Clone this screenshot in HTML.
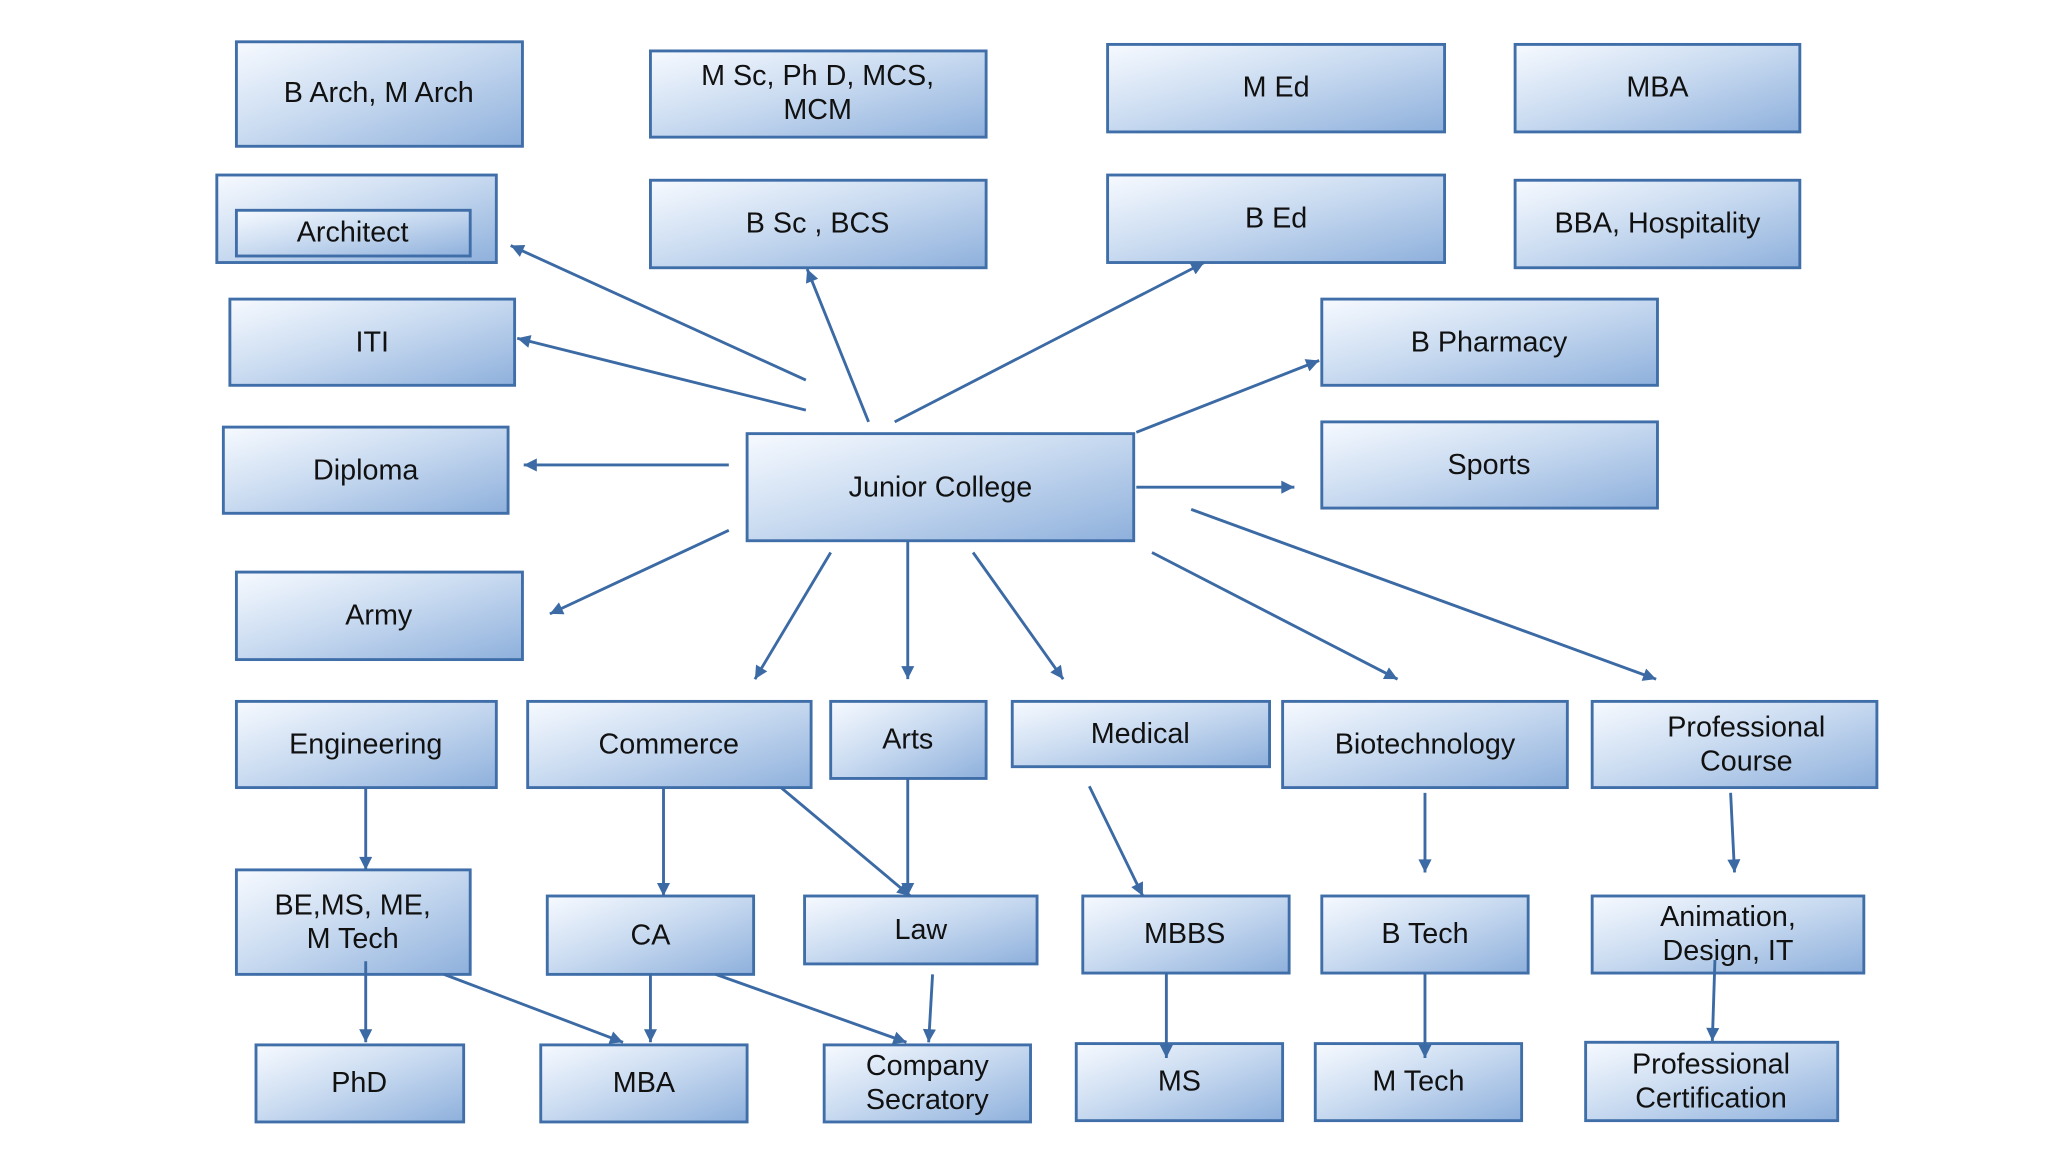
<!DOCTYPE html>
<html><head><meta charset="utf-8"><style>
html,body{margin:0;padding:0;background:#fff;}
svg{display:block;}
text{font-family:"Liberation Sans",Arial,sans-serif;font-size:22px;fill:#111;text-anchor:middle;}
.b{fill:url(#g);stroke:#3f6ea8;stroke-width:2.2;}
.l{stroke:#3b6aa4;stroke-width:2.2;fill:none;marker-end:url(#a);}
</style></head><body>
<svg width="2048" height="1152" viewBox="0 0 1568 882" preserveAspectRatio="none" xmlns="http://www.w3.org/2000/svg">
<defs>
<linearGradient id="g" x1="0" y1="0" x2="1" y2="1">
<stop offset="0" stop-color="#f7faff"/><stop offset="0.45" stop-color="#cbdcf1"/><stop offset="1" stop-color="#8eb0dc"/>
</linearGradient>
<marker id="a" viewBox="0 0 10 10" refX="10" refY="5" markerWidth="12" markerHeight="10" orient="auto" markerUnits="userSpaceOnUse">
<path d="M0,0 L10,5 L0,10 z" fill="#3b6aa4"/>
</marker>
</defs>
<g>
<rect class="b" x="181" y="32" width="219" height="80"/><text x="290" y="78">B Arch, M Arch</text>
<rect class="b" x="498" y="39" width="257" height="66"/><text x="626" y="65">M Sc, Ph D, MCS,</text><text x="626" y="91">MCM</text>
<rect class="b" x="848" y="34" width="258" height="67"/><text x="977" y="74">M Ed</text>
<rect class="b" x="1160" y="34" width="218" height="67"/><text x="1269" y="74">MBA</text>
<rect class="b" x="166" y="134" width="214" height="67"/><rect class="b" x="181" y="161" width="179" height="35"/><text x="270" y="185">Architect</text>
<rect class="b" x="498" y="138" width="257" height="67"/><text x="626" y="178">B Sc , BCS</text>
<rect class="b" x="848" y="134" width="258" height="67"/><text x="977" y="174">B Ed</text>
<rect class="b" x="1160" y="138" width="218" height="67"/><text x="1269" y="178">BBA, Hospitality</text>
<rect class="b" x="176" y="229" width="218" height="66"/><text x="285" y="269">ITI</text>
<rect class="b" x="1012" y="229" width="257" height="66"/><text x="1140" y="269">B Pharmacy</text>
<rect class="b" x="171" y="327" width="218" height="66"/><text x="280" y="367">Diploma</text>
<rect class="b" x="572" y="332" width="296" height="82"/><text x="720" y="380">Junior College</text>
<rect class="b" x="1012" y="323" width="257" height="66"/><text x="1140" y="363">Sports</text>
<rect class="b" x="181" y="438" width="219" height="67"/><text x="290" y="478">Army</text>
<rect class="b" x="181" y="537" width="199" height="66"/><text x="280" y="577">Engineering</text>
<rect class="b" x="404" y="537" width="217" height="66"/><text x="512" y="577">Commerce</text>
<rect class="b" x="636" y="537" width="119" height="59"/><text x="695" y="573">Arts</text>
<rect class="b" x="775" y="537" width="197" height="50"/><text x="873" y="569">Medical</text>
<rect class="b" x="982" y="537" width="218" height="66"/><text x="1091" y="577">Biotechnology</text>
<rect class="b" x="1219" y="537" width="218" height="66"/><text x="1337" y="564">Professional</text><text x="1337" y="590">Course</text>
<rect class="b" x="181" y="666" width="179" height="80"/><text x="270" y="700">BE,MS, ME,</text><text x="270" y="726">M Tech</text>
<rect class="b" x="419" y="686" width="158" height="60"/><text x="498" y="723">CA</text>
<rect class="b" x="616" y="686" width="178" height="52"/><text x="705" y="719">Law</text>
<rect class="b" x="829" y="686" width="158" height="59"/><text x="907" y="722">MBBS</text>
<rect class="b" x="1012" y="686" width="158" height="59"/><text x="1091" y="722">B Tech</text>
<rect class="b" x="1219" y="686" width="208" height="59"/><text x="1323" y="709">Animation,</text><text x="1323" y="735">Design, IT</text>
<rect class="b" x="196" y="800" width="159" height="59"/><text x="275" y="836">PhD</text>
<rect class="b" x="414" y="800" width="158" height="59"/><text x="493" y="836">MBA</text>
<rect class="b" x="631" y="800" width="158" height="59"/><text x="710" y="823">Company</text><text x="710" y="849">Secratory</text>
<rect class="b" x="824" y="799" width="158" height="59"/><text x="903" y="835">MS</text>
<rect class="b" x="1007" y="799" width="158" height="59"/><text x="1086" y="835">M Tech</text>
<rect class="b" x="1214" y="798" width="193" height="60"/><text x="1310" y="822">Professional</text><text x="1310" y="848">Certification</text>
</g>
<g>
<line class="l" x1="617" y1="291" x2="391" y2="188"/>
<line class="l" x1="617" y1="314" x2="396" y2="259"/>
<line class="l" x1="558" y1="356" x2="401" y2="356"/>
<line class="l" x1="558" y1="406" x2="421" y2="470"/>
<line class="l" x1="665" y1="323" x2="618" y2="206"/>
<line class="l" x1="685" y1="323" x2="922" y2="201"/>
<line class="l" x1="870" y1="331" x2="1010" y2="276"/>
<line class="l" x1="870" y1="373" x2="991" y2="373"/>
<line class="l" x1="636" y1="423" x2="578" y2="520"/>
<line class="l" x1="695" y1="415" x2="695" y2="520"/>
<line class="l" x1="745" y1="423" x2="814" y2="520"/>
<line class="l" x1="882" y1="423" x2="1070" y2="520"/>
<line class="l" x1="912" y1="390" x2="1268" y2="520"/>
<line class="l" x1="280" y1="603" x2="280" y2="666"/>
<line class="l" x1="508" y1="603" x2="508" y2="686"/>
<line class="l" x1="598" y1="603" x2="697" y2="686"/>
<line class="l" x1="695" y1="596" x2="695" y2="686"/>
<line class="l" x1="834" y1="602" x2="875" y2="686"/>
<line class="l" x1="1091" y1="607" x2="1091" y2="668"/>
<line class="l" x1="1325" y1="607" x2="1328" y2="668"/>
<line class="l" x1="280" y1="736" x2="280" y2="798"/>
<line class="l" x1="340" y1="746" x2="477" y2="798"/>
<line class="l" x1="498" y1="746" x2="498" y2="798"/>
<line class="l" x1="548" y1="746" x2="694" y2="798"/>
<line class="l" x1="714" y1="746" x2="711" y2="798"/>
<line class="l" x1="893" y1="745" x2="893" y2="810"/>
<line class="l" x1="1091" y1="745" x2="1091" y2="810"/>
<line class="l" x1="1313" y1="735" x2="1311" y2="797"/>
</g>
</svg>
</body></html>
